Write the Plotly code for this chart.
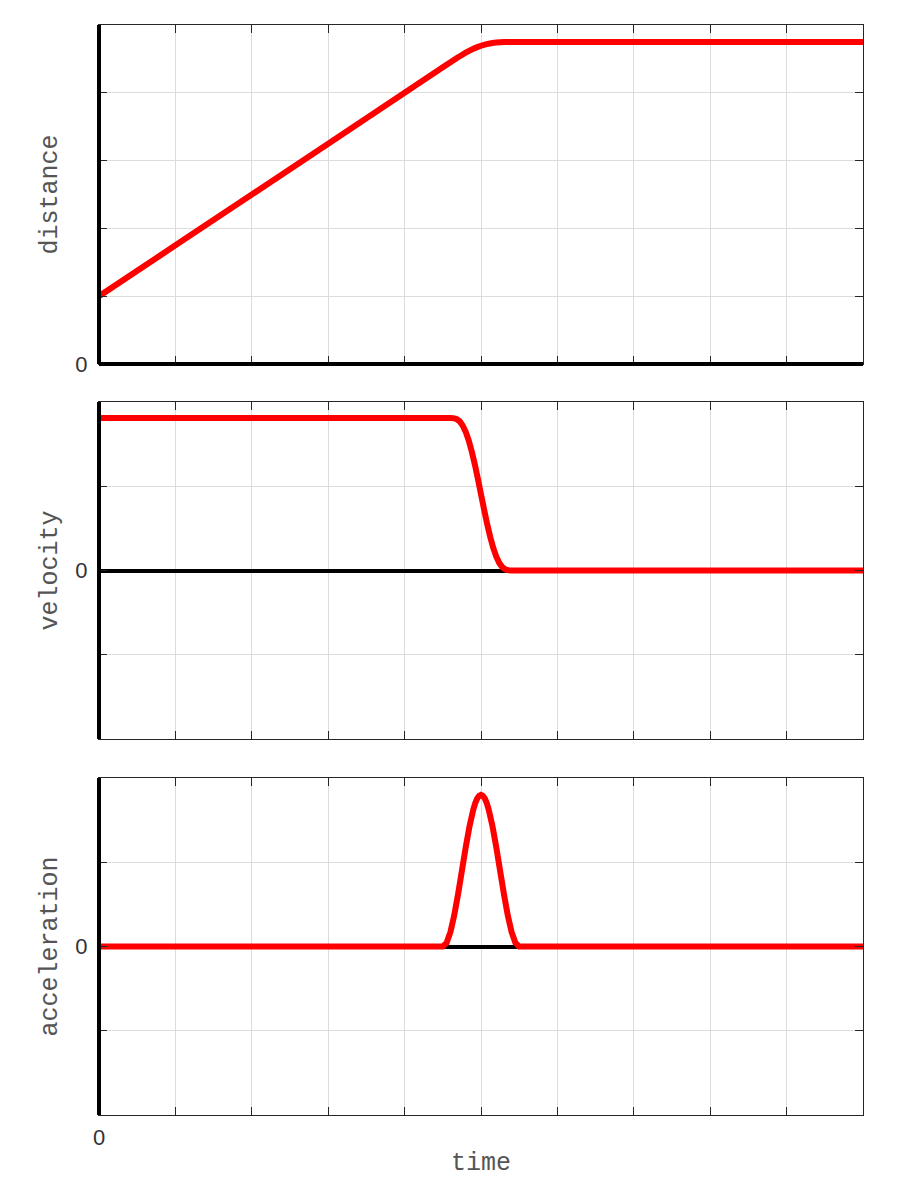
import plotly.graph_objects as go

# ---- data ----
dist_t = [0, 1, 2, 3, 4, 4.5, 4.55, 4.6, 4.65, 4.7, 4.75, 4.8, 4.85, 4.9, 4.95, 5.0,
          5.05, 5.1, 5.15, 5.2, 5.25, 5.3, 5.35, 5.4, 5.45, 5.5, 6, 7, 8, 9, 10]
dist_v = [1.0, 1.75, 2.5, 3.25, 4.0, 4.375, 4.4125, 4.4499, 4.4869, 4.5231, 4.5581, 4.5911, 4.6217, 4.6494,
          4.6736, 4.6942, 4.7111, 4.7244, 4.7342, 4.7411, 4.7456, 4.7481, 4.7494, 4.7499, 4.75, 4.75,
          4.75, 4.75, 4.75, 4.75, 4.75]

vel_t = [0, 1, 2, 3, 4, 4.6, 4.64, 4.68, 4.72, 4.76, 4.8, 4.84, 4.88, 4.92, 4.96, 5.0,
         5.04, 5.08, 5.12, 5.16, 5.2, 5.24, 5.28, 5.32, 5.36, 5.4, 6, 7, 8, 9, 10]
vel_v = [1.81, 1.81, 1.81, 1.81, 1.81, 1.81, 1.8085, 1.7983, 1.7716, 1.722, 1.6456, 1.541, 1.4096, 1.2553,
         1.0845, 0.905, 0.7255, 0.5547, 0.4004, 0.269, 0.1644, 0.088, 0.0384, 0.0117, 0.0015, 0,
         0, 0, 0, 0, 0]

acc_t = [0, 1, 2, 3, 4, 4.5, 4.55, 4.6, 4.65, 4.7, 4.75, 4.8, 4.85, 4.9, 4.925, 4.95, 4.975, 5.0,
         5.025, 5.05, 5.075, 5.1, 5.15, 5.2, 5.25, 5.3, 5.35, 5.4, 5.45, 5.5, 6, 7, 8, 9, 10]
acc_v = [0, 0, 0, 0, 0, 0, 0.044, 0.1719, 0.371, 0.6219, 0.9, 1.1781, 1.429, 1.6281, 1.7019, 1.756, 1.7889, 1.8,
         1.7889, 1.756, 1.7019, 1.6281, 1.429, 1.1781, 0.9, 0.6219, 0.371, 0.1719, 0.044, 0,
         0, 0, 0, 0, 0]

x_ticks = [0, 1, 2, 3, 4, 5, 6, 7, 8, 9, 10]
x_ticktext = ["0", "", "", "", "", "", "", "", "", "", ""]
dist_ticks = [0, 1, 2, 3, 4, 5]
dist_ticktext = ["0", "", "", "", "", ""]
sym_ticks = [-2, -1, 0, 1, 2]
sym_ticktext = ["", "", "0", "", ""]

RED = "#ff0000"
FRAME = "#262626"
GRID = "#dcdcdc"
MONO = "Liberation Mono, Courier New, monospace"
SANS = "Liberation Sans, Arial, sans-serif"

# page body adds an 8px offset; positions below are compensated
OFF = 8
W, H = 900, 1200

fig = go.Figure()
for xs, ys, xa, ya in [(dist_t, dist_v, "x", "y"), (vel_t, vel_v, "x2", "y2"), (acc_t, acc_v, "x3", "y3")]:
    fig.add_trace(go.Scatter(x=xs, y=ys, mode="lines",
                             line=dict(color=RED, width=6, simplify=False),
                             xaxis=xa, yaxis=ya, showlegend=False))

def px_x(p):
    return (p - OFF) / W

def px_y(p):
    return 1 - (p - OFF) / H

xdom = [px_x(99), px_x(863)]
doms = [
    [px_y(364), px_y(25)],
    [px_y(739), px_y(402)],
    [px_y(1115), px_y(778)],
]

def tick_font():
    return dict(family=SANS, size=22, color="#333333")

def common_x():
    return dict(range=[0, 10], domain=xdom, tickvals=x_ticks, ticktext=x_ticktext,
                ticks="inside", ticklen=8, tickcolor=FRAME, tickwidth=1,
                showline=True, linewidth=1, linecolor=FRAME, mirror="ticks",
                showgrid=True, gridcolor=GRID, gridwidth=1, zeroline=False,
                automargin=False, tickfont=tick_font())

def common_y():
    return dict(ticks="inside", ticklen=8, tickcolor=FRAME, tickwidth=1,
                showline=True, linewidth=1, linecolor=FRAME, mirror="ticks",
                showgrid=True, gridcolor=GRID, gridwidth=1,
                automargin=False, tickfont=tick_font(), ticklabelstandoff=6)

title_font = dict(family=MONO, size=25, color="#555555")

fig.update_layout(
    width=W, height=H,
    margin=dict(l=0, r=0, t=0, b=0, pad=0),
    paper_bgcolor="white", plot_bgcolor="white",
    xaxis=dict(**common_x(), anchor="y", showticklabels=False),
    xaxis2=dict(**common_x(), anchor="y2", matches="x", showticklabels=False),
    xaxis3=dict(**common_x(), anchor="y3", matches="x", showticklabels=True, ticklabelstandoff=3),
    yaxis=dict(**common_y(), domain=doms[0], anchor="x", range=[0, 5], tickvals=dist_ticks, ticktext=dist_ticktext,
               zeroline=False),
    yaxis2=dict(**common_y(), domain=doms[1], anchor="x2", range=[-2, 2], tickvals=sym_ticks, ticktext=sym_ticktext,
                zeroline=True, zerolinecolor="black", zerolinewidth=4),
    yaxis3=dict(**common_y(), domain=doms[2], anchor="x3", range=[-2, 2], tickvals=sym_ticks, ticktext=sym_ticktext,
                zeroline=True, zerolinecolor="black", zerolinewidth=4),
)

y_titles = ["distance", "velocity", "acceleration"]
annotations = []
for name, dom in zip(y_titles, doms):
    annotations.append(dict(text=name, xref="paper", yref="paper", x=px_x(50), y=(dom[0] + dom[1]) / 2,
                            xanchor="center", yanchor="middle", textangle=-90, showarrow=False,
                            font=title_font))
annotations.append(dict(text="time", xref="paper", yref="paper", x=px_x(481), y=px_y(1163),
                        xanchor="center", yanchor="middle", showarrow=False, font=title_font))
fig.update_layout(annotations=annotations)

shapes = []
for xa, ya in [("x", "y"), ("x2", "y2"), ("x3", "y3")]:
    shapes.append(dict(type="line", xref=f"{xa} domain", yref=f"{ya} domain",
                       x0=0, x1=0, y0=0, y1=1, line=dict(color="black", width=4), layer="above"))
shapes.append(dict(type="line", xref="x domain", yref="y domain", x0=0, x1=1, y0=0, y1=0,
                   line=dict(color="black", width=4), layer="above"))
fig.update_layout(shapes=shapes)

fig.write_html("out.html")
